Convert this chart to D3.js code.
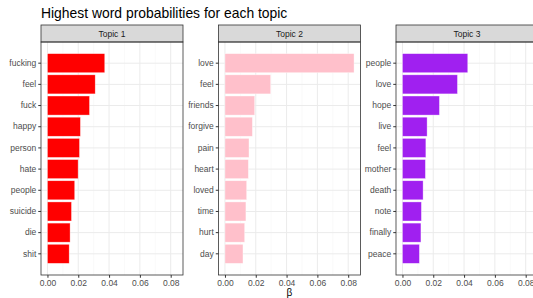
<!DOCTYPE html>
<html lang="en">
<head>
<meta charset="utf-8">
<title>Highest word probabilities for each topic</title>
<script src="https://d3js.org/d3.v7.min.js"></script>
<style>
  body { margin: 0; background: #fff; }
  svg { font-family: "Liberation Sans", Arial, sans-serif; }
  .grid line { stroke: #EBEBEB; }
  .grid line.minor { stroke: #F5F5F5; stroke-width: 0.5; }
  .tick text { fill: #4D4D4D; font-size: 8.5px; }
  .tick line { stroke: #333; }
</style>
</head>
<body>
<svg id="chart" width="533" height="298"></svg>
<script>
// data
var topics = ["Topic 1", "Topic 2", "Topic 3"];
var colors = ["#FF0000", "#FFC0CB", "#A020F0"];

var terms1 = ["fucking", "feel", "fuck", "happy", "person", "hate", "people", "suicide", "die", "shit"];
var beta1  = [0.0372, 0.0310, 0.0273, 0.0214, 0.0208, 0.0199, 0.0177, 0.0156, 0.0147, 0.0141];

var terms2 = ["love", "feel", "friends", "forgive", "pain", "heart", "loved", "time", "hurt", "day"];
var beta2  = [0.0838, 0.0297, 0.0193, 0.0178, 0.0156, 0.0152, 0.0141, 0.0136, 0.0128, 0.0117];

var terms3 = ["people", "love", "hope", "live", "feel", "mother", "death", "note", "finally", "peace"];
var beta3  = [0.0424, 0.0357, 0.0240, 0.0160, 0.0152, 0.0149, 0.0134, 0.0123, 0.0120, 0.0110];

var xTicks = [0, 0.02, 0.04, 0.06, 0.08];
var xMinor = [0.01, 0.03, 0.05, 0.07];

var allTerms = [terms1, terms2, terms3];
var allBeta = [beta1, beta2, beta3];

var svg = d3.select("#chart");

var left0 = 41, panelW = 142, gap = 35.5;
var stripTop = 25, stripH = 17, panelBottom = 275;
var panelTop = stripTop + stripH;

var maxB = d3.max(allBeta.flat());
var pad = maxB * 0.05;

svg.append("text")
  .attr("x", 41).attr("y", 18)
  .attr("font-size", "13.9px").attr("fill", "#000")
  .text("Highest word probabilities for each topic");

topics.forEach(function(t, i) {
  var x0 = left0 + i * (panelW + gap);
  var g = svg.append("g").attr("transform", "translate(" + x0 + ",0)");

  var x = d3.scaleLinear().domain([-pad, maxB + pad]).range([0, panelW]);
  var y = d3.scaleBand().domain(allTerms[i]).range([panelTop, panelBottom])
    .paddingInner(0.1).paddingOuter(0.55);

  var grid = g.append("g").attr("class", "grid");
  grid.selectAll("line.minor").data(xMinor).join("line").attr("class", "minor")
    .attr("x1", d => x(d)).attr("x2", d => x(d))
    .attr("y1", panelTop).attr("y2", panelBottom);
  grid.selectAll("line.vmaj").data(xTicks).join("line").attr("class", "vmaj")
    .attr("x1", d => x(d)).attr("x2", d => x(d))
    .attr("y1", panelTop).attr("y2", panelBottom);
  grid.selectAll("line.hmaj").data(allTerms[i]).join("line").attr("class", "hmaj")
    .attr("x1", 0).attr("x2", panelW)
    .attr("y1", d => y(d) + y.bandwidth() / 2).attr("y2", d => y(d) + y.bandwidth() / 2);

  g.selectAll("rect.bar").data(allTerms[i]).join("rect").attr("class", "bar")
    .attr("x", x(0))
    .attr("y", d => y(d))
    .attr("width", (d, j) => x(allBeta[i][j]) - x(0))
    .attr("height", y.bandwidth())
    .attr("fill", colors[i])
    .attr("stroke", "#fff").attr("stroke-opacity", 0.6).attr("stroke-width", 0.6);

  // strip
  g.append("rect")
    .attr("x", 0).attr("y", stripTop).attr("width", panelW).attr("height", stripH)
    .attr("fill", "#D9D9D9").attr("stroke", "#333").attr("stroke-width", 0.8);
  g.append("text")
    .attr("x", panelW / 2).attr("y", stripTop + stripH / 2 + 3)
    .attr("text-anchor", "middle").attr("font-size", "8.5px").attr("fill", "#1A1A1A")
    .text(t);

  // panel border
  g.append("rect")
    .attr("x", 0).attr("y", panelTop).attr("width", panelW).attr("height", panelBottom - panelTop)
    .attr("fill", "none").attr("stroke", "#333").attr("stroke-width", 0.8);

  var ax = g.append("g").attr("transform", "translate(0," + panelBottom + ")")
    .call(d3.axisBottom(x).tickValues(xTicks).tickFormat(d3.format(".2f")).tickSize(2.75).tickPadding(2));
  ax.select(".domain").remove();

  var ay = g.append("g")
    .call(d3.axisLeft(y).tickSize(2.75).tickPadding(2));
  ay.select(".domain").remove();
});

svg.append("text")
  .attr("x", left0 + (3 * panelW + 2 * gap) / 2).attr("y", 295.5)
  .attr("text-anchor", "middle").attr("font-size", "10px").attr("fill", "#000")
  .text("β");
</script>
</body>
</html>
